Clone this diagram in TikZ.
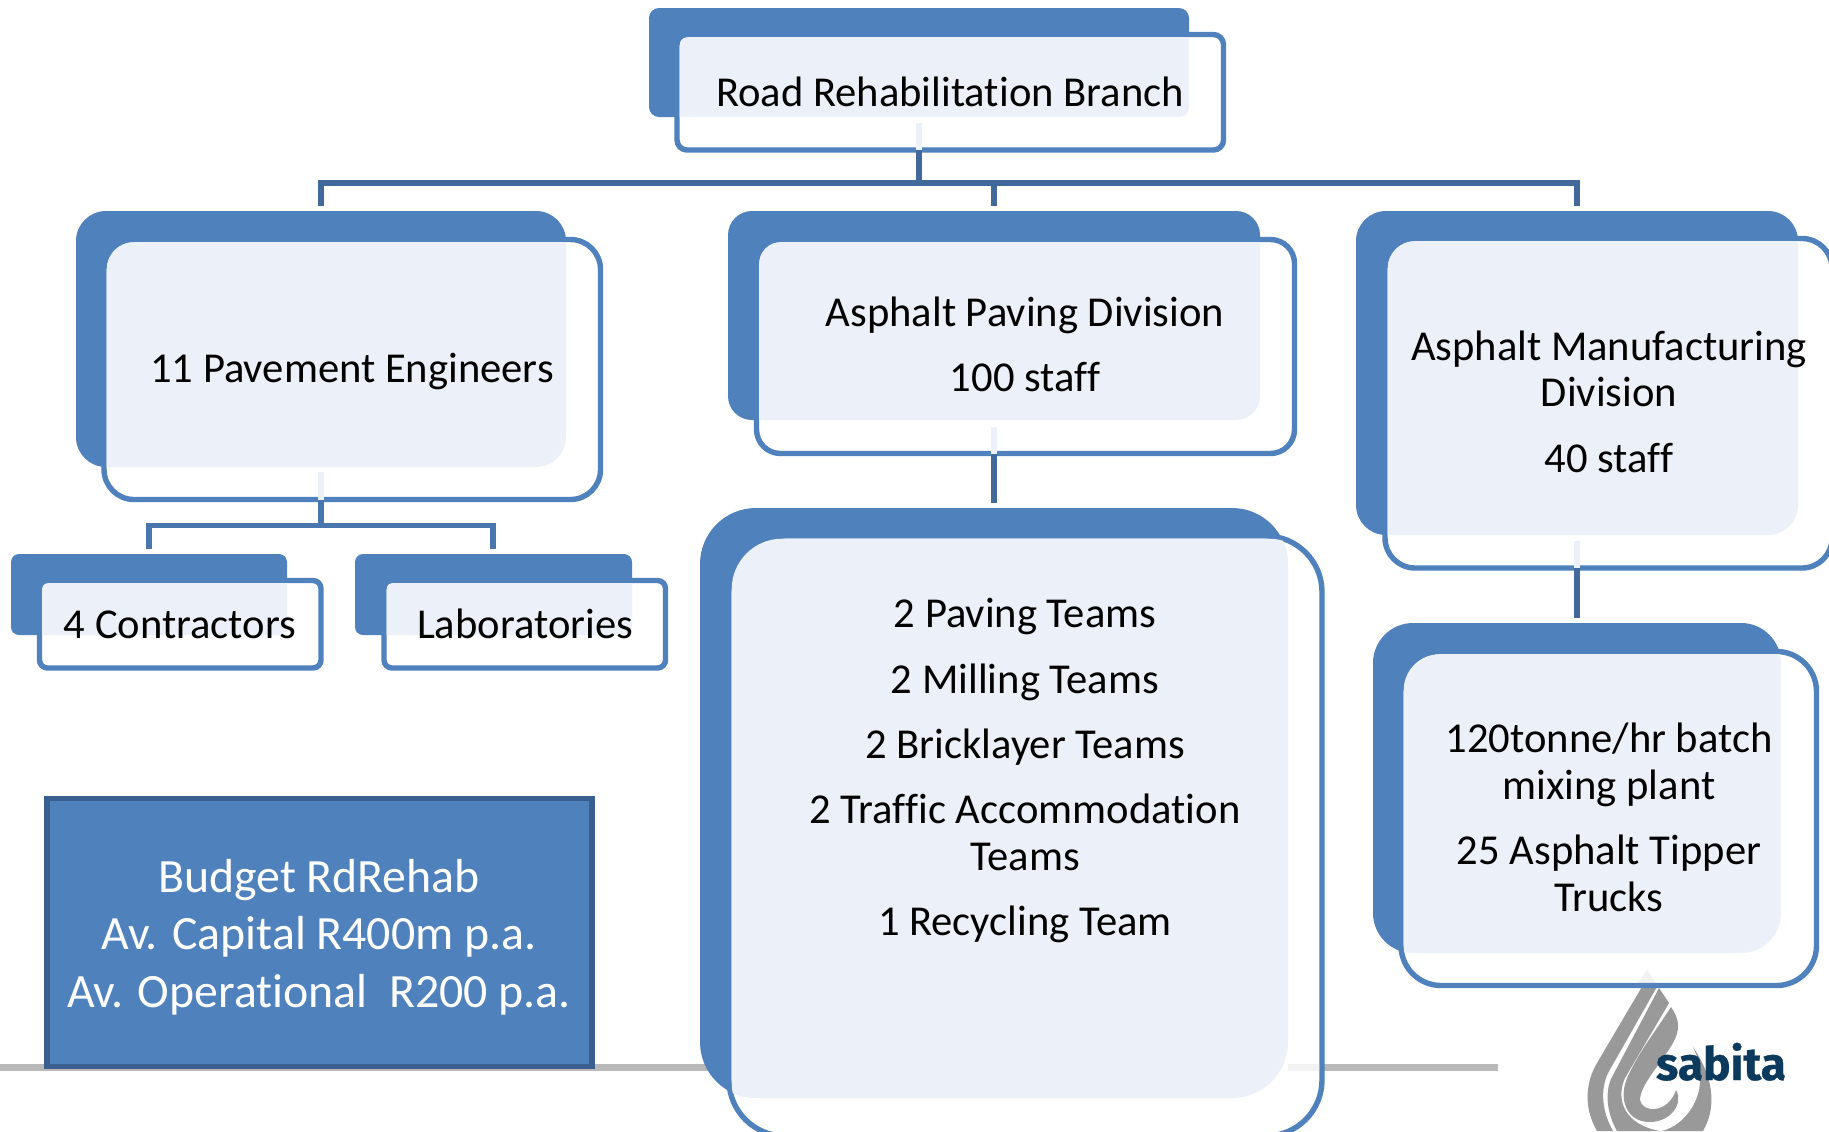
\documentclass[tikz,border=0pt]{standalone}
\usepackage{fontspec}
\setmainfont[Ligatures=NoCommon]{Carlito}
\newfontfamily\logofont[BoldFeatures={FakeBold=0.6}]{Fira Sans}
\definecolor{bluemain}{HTML}{4F81BD}
\definecolor{lightfill}{HTML}{ECF0F8}
\definecolor{conn}{HTML}{41699B}
\definecolor{connb}{HTML}{4A76AE}
\definecolor{budgetedge}{HTML}{3A5F8F}
\definecolor{rule}{HTML}{B9B9B9}
\definecolor{logogrey}{HTML}{999999}
\definecolor{logotext}{HTML}{0B3A5C}
\tikzset{
  backbox/.style={draw=none,fill=bluemain,rectangle,inner sep=0pt,outer sep=0pt},
  framebox/.style={draw=bluemain,fill=white,line width=2.7pt,rectangle,inner sep=0pt,outer sep=0pt},
  label/.style={anchor=base,inner sep=0pt,yshift=-0.5pt,font=\fontsize{21.3}{24}\selectfont,text=black},
  budgettext/.style={anchor=base,inner sep=0pt,yshift=-0.5pt,font=\fontsize{23.9}{26}\selectfont,text=white},
  connector/.style={draw=conn,line width=2.7pt},
  connectorb/.style={draw=connb,line width=2.7pt},
  stub/.style={draw=lightfill,line width=3pt},
}
% name, blue x1 y1 x2 y2, frame centre-line x1 y1 x2 y2, radius
\newcommand{\orgbox}[9]{%
  \begingroup
  \def\nm{#1}%
  \orgboxB{#2}{#3}{#4}{#5}{#6}{#7}{#8}{#9}%
}
\newcommand{\orgboxB}[9]{%
  \pgfmathsetmacro\bw{(#3-#1)*0.5}\pgfmathsetmacro\bh{(#4-#2)*0.5}%
  \pgfmathsetmacro\fw{(#7-#5)*0.5}\pgfmathsetmacro\fh{(#8-#6)*0.5}%
  \node[backbox,rounded corners=#9*0.5pt,minimum width=\bw pt,minimum height=\bh pt] (\nm-back) at ({(#1+#3)/2},{(#2+#4)/2}) {};
  \node[framebox,rounded corners=#9*0.5pt,minimum width=\fw pt,minimum height=\fh pt] (\nm) at ({(#5+#7)/2},{(#6+#8)/2}) {};
  \begin{scope}
    \clip[rounded corners=#9*0.45pt] (#5+2.7,#6+2.7) rectangle (#7-2.7,#8-2.7);
    \fill[lightfill,rounded corners=#9*0.5pt] (#1,#2) rectangle (#3,#4);
  \end{scope}
  \endgroup
}
\begin{document}
\begin{tikzpicture}[x=0.5pt,y=-0.5pt]
\useasboundingbox (0,0) rectangle (1829,1131);
\fill[white] (0,0) rectangle (1829,1131);
% ground rule
\fill[rule] (0,1064) rectangle (712,1071);
\fill[rule] (1320,1064) rectangle (1498,1071);
% logo
\begin{scope}
  \clip (1560,960) rectangle (1800,1131);
  \fill[logogrey] (1643,985) -- (1597,1063) .. controls (1587,1080) and (1582,1105) .. (1597,1131) -- (1613,1131) .. controls (1602,1112) and (1600,1090) .. (1608,1073) -- (1658,985) -- cycle;
  \fill[logogrey] (1659,988) -- (1669,1003) -- (1625,1078) .. controls (1615,1100) and (1625,1125) .. (1660,1131) -- (1617,1131) .. controls (1606,1112) and (1605,1090) .. (1612,1077) -- cycle;
  \fill[logogrey] (1671,1007) .. controls (1680,1020) and (1680,1030) .. (1673,1043) .. controls (1660,1065) and (1640,1085) .. (1640,1100) .. controls (1642,1113) and (1668,1114) .. (1676,1090) .. controls (1684,1104) and (1670,1122) .. (1650,1122) .. controls (1625,1122) and (1618,1097) .. (1628,1076) .. controls (1640,1050) and (1655,1032) .. (1671,1007) -- cycle;
  \fill[logogrey] (1693,1047) .. controls (1712,1075) and (1718,1105) .. (1703,1131) -- (1662,1131) .. controls (1685,1125) and (1702,1100) .. (1700,1075) .. controls (1700,1065) and (1697,1055) .. (1693,1047) -- cycle;
\end{scope}
\node[anchor=base,inner sep=0pt,font=\logofont\fontsize{23}{24}\selectfont\bfseries,text=logotext] (logotxt) at (1721,1080) {sabita};
% boxes
\orgbox{top}{649}{8}{1189}{117}{677}{34.5}{1223.5}{150}{10}
\orgbox{eng}{76}{211}{566}{467}{104}{239.5}{600.5}{499.5}{30}
\orgbox{pave}{728}{211}{1260}{420}{756.5}{239.5}{1294.5}{453.5}{24}
\orgbox{mfg}{1356}{211}{1798}{535}{1385}{238.5}{1832}{568}{30}
\orgbox{con}{11}{554}{287}{635}{39.5}{580.5}{321}{668}{8}
\orgbox{lab}{355}{554}{632}{635}{384}{580.5}{665.5}{668}{8}
\orgbox{teams}{700}{508}{1288}{1098}{729}{536}{1322}{1136}{56}
\orgbox{plant}{1373}{623}{1781}{953}{1401}{651.5}{1816.5}{985.5}{40}
% see-through of the frames
\fill[rule,opacity=.18] (1288,1064) rectangle (1320,1071);
\fill[logogrey,opacity=.12] (1647,970) -- (1637,985) -- (1657,985) -- cycle;
% connectors
\coordinate (engdrop) at (321,206);
\coordinate (pavedrop) at (994,206);
\coordinate (mfgdrop) at (1577,206);
\coordinate (busjoin) at (919,183);
\coordinate (engbus) at (321,525.5);
\coordinate (conbus) at (149,549);
\coordinate (labbus) at (493,549);
\draw[stub] (919,123) -- (919,150);
\draw[stub] (321,472) -- (engdrop|-eng.south);
\draw[stub] (994,427) -- (pavedrop|-pave.south);
\draw[stub] (1577,541) -- (mfgdrop|-mfg.south);
\draw[connector] (busjoin|-top.south) -- (busjoin);
\draw[connector,line join=miter] (engdrop) |- (busjoin) -| (mfgdrop);
\draw[connector] (994,183) -- (pavedrop);
\draw[connector,shorten >=2.5pt] (pavedrop|-pave.south) -- (pavedrop|-teams-back.north);
\draw[connector,shorten >=2.5pt] (mfgdrop|-mfg.south) -- (mfgdrop|-plant-back.north);
\draw[connectorb] (engdrop|-eng.south) -- (engbus);
\draw[connectorb,line join=miter] (conbus) |- (engbus) -| (labbus);
% texts
\node[label] (t0) at (950,105) {Road Rehabilitation Branch};
\node[label] (t1) at (352,381) {11 Pavement Engineers};
\node[label] (t2) at (1025,325) {Asphalt Paving Division};
\node[label] (t3) at (1025,390) {100 staff};
\node[label] (t4) at (1609,359) {Asphalt Manufacturing};
\node[label] (t5) at (1609,405) {Division};
\node[label] (t6) at (1609,471) {40 staff};
\node[label] (t7) at (180,637) {4 Contractors};
\node[label] (t8) at (525,637) {Laboratories};
\node[label] (t9) at (1025,626) {2 Paving Teams};
\node[label] (t10) at (1025,692) {2 Milling Teams};
\node[label] (t11) at (1025,757) {2 Bricklayer Teams};
\node[label] (t12) at (1025,822) {2 Traffic Accommodation};
\node[label] (t13) at (1025,869) {Teams};
\node[label] (t14) at (1025,934) {1 Recycling Team};
\node[label] (t15) at (1609,751) {120tonne/hr batch};
\node[label] (t16) at (1609,798) {mixing plant};
\node[label] (t17) at (1609,863) {25 Asphalt Tipper};
\node[label] (t18) at (1609,910) {Trucks};
% budget
\node[draw=budgetedge,fill=bluemain,line width=2.7pt,rectangle,inner sep=0pt,outer sep=0pt,minimum width=272.5pt,minimum height=134pt] (budget) at (319.5,932.5) {};
\node[budgettext] (b1) at (319,891) {Budget RdRehab};
\node[budgettext] (b2) at (319,948) {Av. Capital R400m p.a.};
\node[budgettext] (b3) at (319,1006) {Av. Operational\ \ R200 p.a.};
\end{tikzpicture}
\end{document}
